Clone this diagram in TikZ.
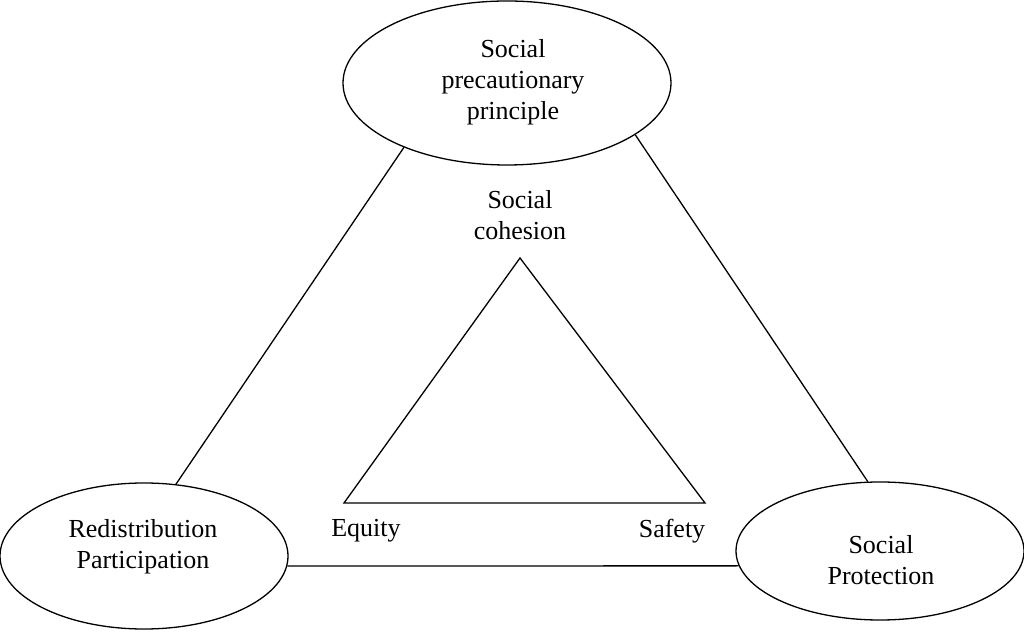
\documentclass[tikz,border=0pt]{standalone}
\usepackage{fontspec}
\setmainfont{Liberation Serif}
\usetikzlibrary{shapes.geometric}
\begin{document}
\begin{tikzpicture}[x=1pt,y=1pt,
  oval/.style={draw,ellipse,line width=1.3pt,inner sep=0pt},
  lbl/.style={align=center,font=\fontsize{26}{31}\selectfont,inner sep=0pt},
  link/.style={line width=1.3pt}]
\useasboundingbox (0,0) rectangle (1024,631);
\node[oval,minimum width=328pt,minimum height=164pt] (T) at (507,548) {};
\node[oval,minimum width=288pt,minimum height=146pt] (L) at (144,75) {};
\node[oval,minimum width=288pt,minimum height=138pt] (R) at (880,80) {};
\node[lbl] (Tt) at (513,549) {Social\\precautionary\\principle};
\node[lbl] (Lt) at (143,84) {Redistribution\\Participation};
\node[lbl] (Rt) at (881,71) {Social\\Protection};
\draw[link] (T.212.5) -- (L.66.4);
\draw[link] (T.-22.4) -- (R.100);
\draw[link] (L.-4) -- (R.186);
\coordinate (apex) at (520,373);
\coordinate (bl) at (344,128);
\coordinate (br) at (705,128);
\draw[link,line join=miter] (apex) -- (bl) -- (br) -- cycle;
\node[lbl] (coh) at (520,416) {Social\\cohesion};
\node[lbl] (eq) at (366,100) {Equity};
\node[lbl] (sa) at (672,100) {Safety};
\end{tikzpicture}
\end{document}
